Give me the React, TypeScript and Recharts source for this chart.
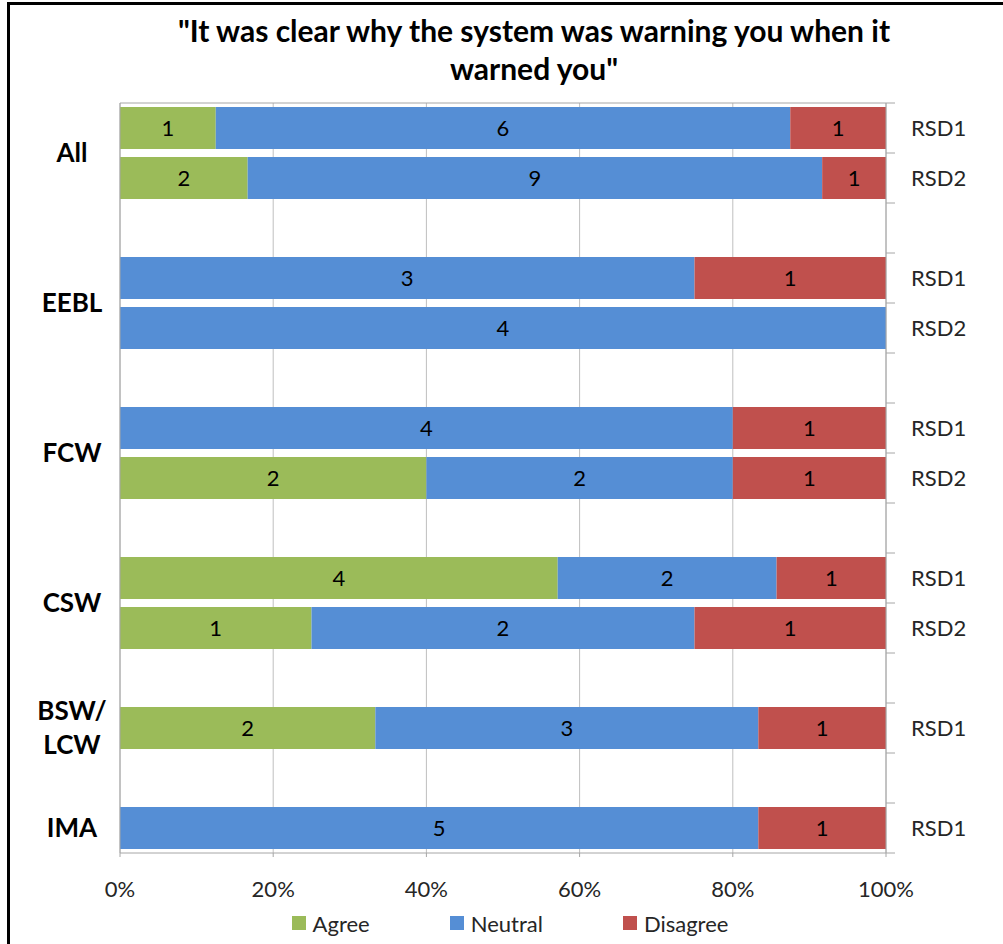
import {
  BarChart,
  Bar,
  XAxis,
  YAxis,
  CartesianGrid,
  Legend,
  LabelList,
} from "recharts";

// one entry per row of the chart, top to bottom ("" = spacer row)
const rowGroup = ["All", "All", "", "EEBL", "EEBL", "", "FCW", "FCW", "", "CSW", "CSW", "", "BSW/LCW", "", "IMA"];
const rowSeries = ["RSD1", "RSD2", "", "RSD1", "RSD2", "", "RSD1", "RSD2", "", "RSD1", "RSD2", "", "RSD1", "", "RSD1"];

// answer counts
const agree = [1, 2, 0, 0, 0, 0, 0, 2, 0, 4, 1, 0, 2, 0, 0];
const neutral = [6, 9, 0, 3, 4, 0, 4, 2, 0, 2, 2, 0, 3, 0, 5];
const disagree = [1, 1, 0, 1, 0, 0, 1, 1, 0, 1, 1, 0, 1, 0, 1];

const seriesNames = ["Agree", "Neutral", "Disagree"];
const pctTicks = [0, 0.2, 0.4, 0.6, 0.8, 1];

const COLORS = { agree: "#9BBB59", neutral: "#558ED5", disagree: "#C0504D" };
const AXIS = "#a6a6a6";
const GRID = "#bfbfbf";
const FONT = "Lato, 'Open Sans', sans-serif";

const rows = rowGroup.map((g, i) => ({
  key: `row${i}`,
  group: g,
  series: rowSeries[i],
  agree: agree[i],
  neutral: neutral[i],
  disagree: disagree[i],
}));

const W = 1003;
const H = 944;
const MARGIN = { top: 96, right: 7, bottom: 3, left: 10 };
const TOP_AXIS_H = 7;
const BOTTOM_AXIS_H = 52;
const LEGEND_H = 36;
const ROW_H = (H - MARGIN.top - TOP_AXIS_H - MARGIN.bottom - BOTTOM_AXIS_H - LEGEND_H) / rows.length;

const rowIndex = (v: string) => rows.findIndex((r) => r.key === v);

// group names on the left, centred on the rows of the group
const GroupTick = (props: any) => {
  const { x, y, payload } = props;
  const i = rowIndex(payload.value);
  const name = rowGroup[i];
  if (!name || (i > 0 && rowGroup[i - 1] === name)) return null;
  let span = 1;
  while (rowGroup[i + span] === name) span++;
  const cy = y + ((span - 1) * ROW_H) / 2;
  const cut = name.indexOf("/");
  const lines = cut >= 0 ? [name.slice(0, cut + 1), name.slice(cut + 1)] : [name];
  const tx = x - 48;
  return (
    <text textAnchor="middle" fontSize={26} fontWeight="bold" fill="#000" fontFamily={FONT}>
      {lines.map((l, k) => (
        <tspan key={k} x={tx} y={cy + (k - (lines.length - 1) / 2) * 34} dy="0.35em">
          {l}
        </tspan>
      ))}
    </text>
  );
};

// RSD labels on the right, with tick marks on the row boundaries
const SeriesTick = (props: any) => {
  const { x, y, payload } = props;
  const i = rowIndex(payload.value);
  const half = ROW_H / 2;
  return (
    <g>
      <line x1={x} x2={x + 9} y1={y - half} y2={y - half} stroke={AXIS} />
      {i === rows.length - 1 && <line x1={x} x2={x + 9} y1={y + half} y2={y + half} stroke={AXIS} />}
      <text x={x + 25} y={y} dy="0.35em" fontSize={22} fill="#262626" fontFamily={FONT}>
        {rowSeries[i]}
      </text>
    </g>
  );
};

const LegendContent = (props: any) => {
  const items = [...(props.payload || [])].sort(
    (a: any, b: any) => seriesNames.indexOf(a.value) - seriesNames.indexOf(b.value)
  );
  return (
    <div
      style={{
        height: LEGEND_H,
        display: "flex",
        justifyContent: "center",
        alignItems: "center",
        paddingLeft: 14,
        fontSize: 22,
        color: "#262626",
        fontFamily: FONT,
      }}
    >
      {items.map((p: any, k: number) => (
        <div key={k} style={{ display: "flex", alignItems: "center", marginLeft: k ? 80 : 0 }}>
          <span style={{ width: 14, height: 14, background: p.color, marginRight: 7, display: "inline-block" }} />
          <span>{p.value}</span>
        </div>
      ))}
    </div>
  );
};

const labelFmt = (v: any) => (v ? v : "");

export default function App() {
  return (
    <div style={{ position: "absolute", left: 0, top: 0, width: W, height: H, overflow: "hidden", background: "#fff", fontFamily: FONT }}>
      <div
        style={{
          position: "absolute",
          left: 7,
          top: 2,
          width: 2000,
          height: 2000,
          borderLeft: "3px solid #000",
          borderTop: "3px solid #000",
        }}
      />
      <div
        style={{
          position: "absolute",
          left: 134,
          width: 800,
          top: 11,
          textAlign: "center",
          fontSize: 30,
          lineHeight: "38px",
          fontWeight: "bold",
          color: "#000",
        }}
      >
        "It was clear why the system was warning you when it
        <br />
        warned you"
      </div>
      <div style={{ position: "absolute", left: 0, top: 0 }}>
        <BarChart
          width={W}
          height={H}
          data={rows}
          layout="vertical"
          stackOffset="expand"
          margin={MARGIN}
          barSize={42}
        >
          <CartesianGrid horizontal={false} stroke={GRID} xAxisId="bottom" yAxisId="left" />
          <XAxis
            xAxisId="top"
            orientation="top"
            type="number"
            domain={[0, 1]}
            ticks={pctTicks}
            allowDataOverflow
            tick={false}
            tickSize={7}
            height={TOP_AXIS_H}
            stroke={AXIS}
          />
          <XAxis
            xAxisId="bottom"
            orientation="bottom"
            type="number"
            domain={[0, 1]}
            ticks={pctTicks}
            allowDataOverflow
            tickFormatter={(v: number) => `${Math.round(v * 100)}%`}
            tickSize={4}
            tickMargin={24}
            height={BOTTOM_AXIS_H}
            stroke={AXIS}
            tick={{ fill: "#262626", fontSize: 22, fontFamily: FONT }}
          />
          <YAxis
            yAxisId="left"
            type="category"
            dataKey="key"
            width={110}
            interval={0}
            tickLine={false}
            tickSize={0}
            tickMargin={0}
            stroke={AXIS}
            tick={<GroupTick />}
          />
          <YAxis
            yAxisId="right"
            orientation="right"
            type="category"
            dataKey="key"
            width={110}
            interval={0}
            tickLine={false}
            tickSize={0}
            tickMargin={0}
            stroke={AXIS}
            tick={<SeriesTick />}
          />
          <Legend verticalAlign="bottom" height={LEGEND_H} content={<LegendContent />} />
          <Bar dataKey="agree" name="Agree" stackId="s" fill={COLORS.agree} xAxisId="bottom" yAxisId="left" isAnimationActive={false}>
            <LabelList dataKey="agree" position="center" formatter={labelFmt} fill="#000" fontSize={22} fontFamily={FONT} />
          </Bar>
          <Bar dataKey="neutral" name="Neutral" stackId="s" fill={COLORS.neutral} xAxisId="bottom" yAxisId="left" isAnimationActive={false}>
            <LabelList dataKey="neutral" position="center" formatter={labelFmt} fill="#000" fontSize={22} fontFamily={FONT} />
          </Bar>
          <Bar dataKey="disagree" name="Disagree" stackId="s" fill={COLORS.disagree} xAxisId="bottom" yAxisId="left" isAnimationActive={false}>
            <LabelList dataKey="disagree" position="center" formatter={labelFmt} fill="#000" fontSize={22} fontFamily={FONT} />
          </Bar>
        </BarChart>
      </div>
    </div>
  );
}
